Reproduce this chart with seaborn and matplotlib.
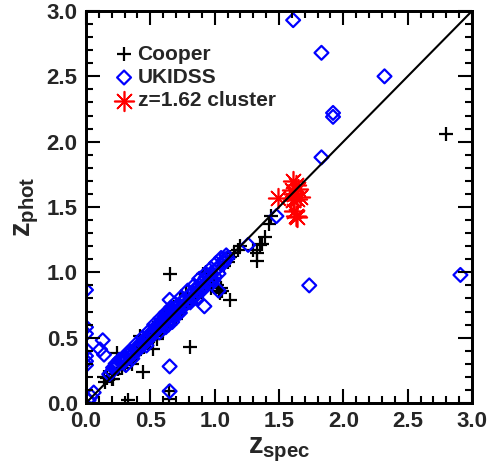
import matplotlib
matplotlib.use("Agg")
import matplotlib.pyplot as plt
import seaborn as sns
import pandas as pd
from matplotlib.ticker import MultipleLocator

# Cooper spectroscopic sample: z_spec, z_phot
cooper_zspec = [0.15, 0.16, 0.21, 0.22, 0.25, 0.28, 0.30, 0.32, 0.35, 0.38, 0.40, 0.43,
                0.45, 0.48, 0.50, 0.53, 0.55, 0.58, 0.60, 0.62, 0.65, 0.68, 0.70, 0.72,
                0.75, 0.78, 0.80, 0.83, 0.85, 0.88, 0.90, 0.93, 0.95, 0.98, 1.00, 1.02,
                1.03, 1.05, 1.07, 1.10, 1.12, 1.15, 1.18, 0.64, 0.60, 0.47, 0.73, 0.78,
                0.57, 0.40, 0.26, 0.14, 0.20, 0.24, 0.42, 0.36, 0.55, 0.70, 0.86, 0.99,
                0.65, 0.91, 0.93, 0.81, 0.44, 0.52, 0.33, 1.12, 1.04, 0.645, 0.645,
                1.20, 1.30, 1.33, 1.33, 1.37, 1.39, 1.42, 1.44, 1.35, 2.80, 0.97, 1.06]
cooper_zphot = [0.16, 0.19, 0.18, 0.22, 0.26, 0.27, 0.29, 0.31, 0.33, 0.37, 0.38, 0.42,
                0.43, 0.47, 0.48, 0.51, 0.53, 0.56, 0.58, 0.60, 0.63, 0.66, 0.68, 0.70,
                0.72, 0.75, 0.78, 0.80, 0.83, 0.85, 0.87, 0.90, 0.92, 0.95, 0.96, 0.90,
                0.86, 0.88, 1.05, 1.08, 1.12, 1.15, 1.17, 0.70, 0.55, 0.50, 0.78, 0.84,
                0.62, 0.44, 0.27, 0.20, 0.18, 0.38, 0.51, 0.30, 0.49, 0.64, 0.80, 0.93,
                0.99, 0.99, 1.00, 0.43, 0.24, 0.41, 0.02, 0.79, 0.84, 0.09, 0.03,
                1.20, 1.17, 1.15, 1.09, 1.22, 1.27, 1.37, 1.43, 1.21, 2.06, 0.88, 0.86]

# UKIDSS sample: z_spec, z_phot
ukidss_zspec = [0.18, 0.20, 0.22, 0.24, 0.25, 0.27, 0.28, 0.30, 0.30, 0.32, 0.33, 0.35,
                0.35, 0.37, 0.38, 0.40, 0.40, 0.42, 0.43, 0.45, 0.45, 0.47, 0.48, 0.50,
                0.50, 0.52, 0.53, 0.54, 0.55, 0.56, 0.57, 0.58, 0.59, 0.60, 0.60, 0.61,
                0.62, 0.63, 0.63, 0.64, 0.65, 0.65, 0.66, 0.67, 0.68, 0.68, 0.70, 0.70,
                0.72, 0.72, 0.73, 0.75, 0.75, 0.77, 0.78, 0.80, 0.80, 0.82, 0.83, 0.84,
                0.85, 0.86, 0.87, 0.88, 0.89, 0.90, 0.90, 0.92, 0.92, 0.93, 0.94, 0.95,
                0.96, 0.97, 0.98, 1.00, 1.00, 1.02, 1.03, 1.05, 1.07, 1.08, 1.10, 0.92,
                0.23, 0.26, 0.29, 0.31, 1.03,
                0.21, 0.27, 0.33, 0.39, 0.44, 0.49, 0.53, 0.58, 0.62, 0.66, 0.69, 0.74,
                0.79, 0.84, 0.88, 0.93, 0.97, 1.01, 1.05, 0.36, 0.47, 0.57, 0.71, 0.81,
                0.91, 0.99, 0.62, 0.64, 0.67, 0.86,
                0.00, 0.00, 0.00, 0.00, 0.00, 0.00, 0.00, 0.02, 0.06, 0.04,
                0.13, 0.11, 0.14, 0.65, 0.65, 0.65, 1.09,
                1.26, 1.48, 1.61, 1.83, 2.32, 1.92, 1.92, 1.83, 1.735, 2.91]
ukidss_zphot = [0.22, 0.24, 0.27, 0.28, 0.30, 0.31, 0.33, 0.32, 0.35, 0.34, 0.37, 0.36,
                0.39, 0.38, 0.41, 0.40, 0.43, 0.44, 0.46, 0.45, 0.48, 0.49, 0.51, 0.50,
                0.53, 0.55, 0.54, 0.58, 0.56, 0.60, 0.58, 0.62, 0.60, 0.64, 0.61, 0.66,
                0.63, 0.68, 0.65, 0.62, 0.70, 0.67, 0.64, 0.72, 0.69, 0.66, 0.73, 0.70,
                0.75, 0.72, 0.69, 0.78, 0.74, 0.79, 0.76, 0.82, 0.78, 0.84, 0.80, 0.86,
                0.83, 0.88, 0.85, 0.90, 0.87, 0.92, 0.89, 0.94, 0.90, 0.96, 0.92, 0.97,
                0.94, 0.99, 0.95, 1.01, 0.97, 1.03, 0.99, 1.06, 1.07, 1.10, 1.11, 0.74,
                0.30, 0.33, 0.31, 0.29, 0.86,
                0.27, 0.33, 0.39, 0.45, 0.50, 0.55, 0.60, 0.65, 0.69, 0.73, 0.76, 0.81,
                0.86, 0.90, 0.95, 0.99, 1.03, 1.07, 1.11, 0.34, 0.44, 0.54, 0.68, 0.77,
                0.87, 0.94, 0.58, 0.60, 0.62, 0.80,
                0.865, 0.58, 0.53, 0.41, 0.36, 0.32, 0.29, 0.02, 0.08, 0.05,
                0.48, 0.41, 0.37, 0.28, 0.09, 0.79, 1.13,
                1.21, 1.43, 2.93, 2.68, 2.50, 2.22, 2.19, 1.88, 0.90, 0.98]

# Members of the z=1.62 cluster
cluster_zspec = [1.49, 1.61, 1.63, 1.60, 1.65, 1.62, 1.66, 1.64, 1.61, 1.62, 1.63, 1.64]
cluster_zphot = [1.57, 1.70, 1.67, 1.63, 1.64, 1.60, 1.58, 1.56, 1.55, 1.47, 1.43, 1.42]

series_labels = ["Cooper", "UKIDSS", "z=1.62 cluster"]
axis_ticks = [0.0, 0.5, 1.0, 1.5, 2.0, 2.5, 3.0]

sns.set_style("ticks")
plt.rcParams.update({
    "font.family": ["Liberation Sans", "DejaVu Sans"],
    "font.weight": "bold",
    "mathtext.fontset": "custom",
    "mathtext.rm": "Liberation Sans:bold",
    "mathtext.it": "Liberation Sans:bold",
    "mathtext.bf": "Liberation Sans:bold",
    "axes.edgecolor": "black", "axes.linewidth": 2,
})

cooper = pd.DataFrame({"zspec": cooper_zspec, "zphot": cooper_zphot})
ukidss = pd.DataFrame({"zspec": ukidss_zspec, "zphot": ukidss_zphot})
cluster = pd.DataFrame({"zspec": cluster_zspec, "zphot": cluster_zphot})

fig = plt.figure(figsize=(4.89, 4.71), dpi=100)
frame = [86 / 489, 1 - 403 / 471, 386 / 489, 392 / 471]

# data panel
ax = fig.add_axes(frame)
sns.scatterplot(data=cooper, x="zspec", y="zphot", ax=ax, marker="+", s=110,
                color="black", linewidth=1.6, label=series_labels[0])
sns.scatterplot(data=ukidss, x="zspec", y="zphot", ax=ax, marker="D", s=50,
                facecolor="none", edgecolor="#0000ff", linewidth=1.6,
                label=series_labels[1])
sns.scatterplot(data=cluster, x="zspec", y="zphot", ax=ax, marker=(8, 2, 0), s=200,
                color="#ff0000", edgecolor="#ff0000", linewidth=1.2,
                label=series_labels[2])

# one-to-one relation
ax.plot([0, 3], [0, 3], color="black", linewidth=1.5)

ax.set_xlim(0, 3)
ax.set_ylim(0, 3)
ax.set_xlabel("")
ax.set_ylabel("")
ax.tick_params(which="both", bottom=False, left=False, top=False, right=False,
               labelbottom=False, labelleft=False)

leg = ax.legend(loc="upper left", bbox_to_anchor=(0.05, 0.935), frameon=False,
                fontsize=15, handletextpad=0.15, labelspacing=0.2,
                handlelength=1.0, borderaxespad=0)
for h, sz in zip(leg.legend_handles, [110, 50, 200]):
    h.set_sizes([sz])

# frame with inward ticks on all four sides, sharing the same data limits
frm = fig.add_axes(frame, facecolor="none", zorder=5)
frm.set_xlim(ax.get_xlim())
frm.set_ylim(ax.get_ylim())
frm.set_xticks(axis_ticks)
frm.set_yticks(axis_ticks)
frm.xaxis.set_minor_locator(MultipleLocator(0.1))
frm.yaxis.set_minor_locator(MultipleLocator(0.1))
frm.tick_params(which="both", direction="in", bottom=True, left=True, top=True,
                right=True, color="black", width=1.5, labelsize=16, pad=6)
frm.tick_params(which="major", length=10)
frm.tick_params(which="minor", length=5)
for sp in frm.spines.values():
    sp.set_visible(True)
    sp.set_linewidth(2)
    sp.set_color("black")
frm.set_xlabel(r"$z_{spec}$", fontsize=21, labelpad=2)
frm.set_ylabel(r"$z_{phot}$", fontsize=21, labelpad=4)

fig.savefig("out.png", dpi=100)
